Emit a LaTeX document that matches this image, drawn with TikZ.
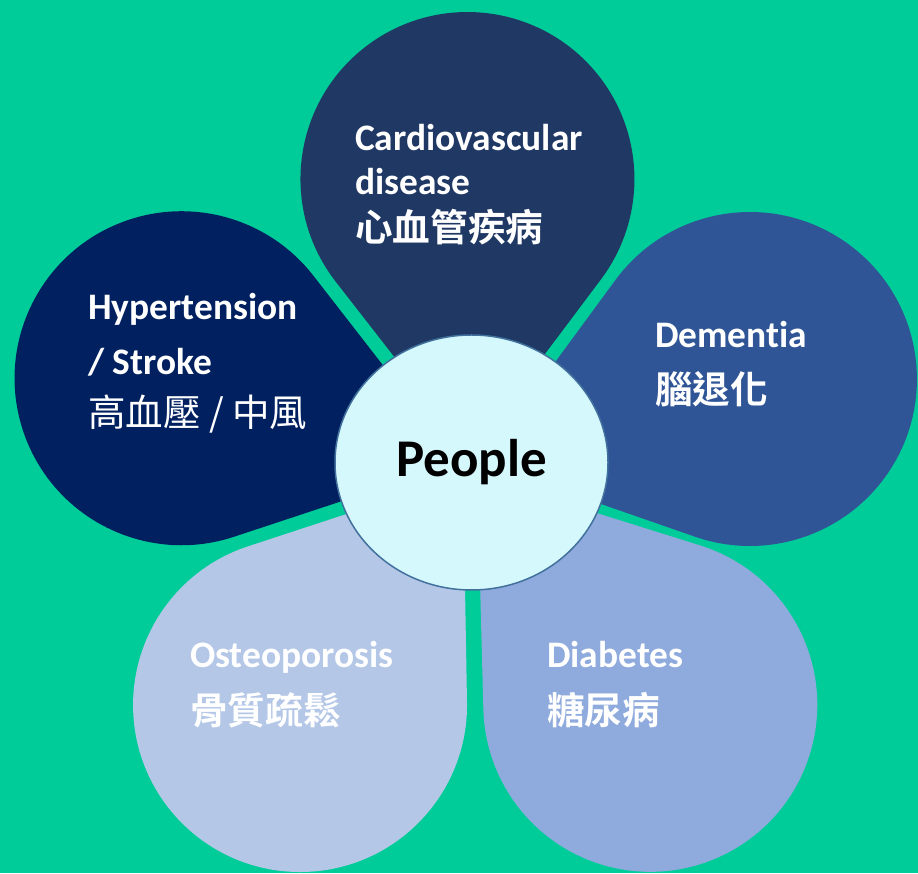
\documentclass[tikz,border=0pt]{standalone}
\usepackage{fontspec}
\setmainfont{Carlito}[Ligatures=NoCommon]
\newfontfamily\cjk{Noto Sans CJK TC}[BoldFont={Noto Sans CJK TC Bold}]
\usetikzlibrary{shapes.geometric}
\definecolor{bggreen}{RGB}{0,204,153}
\definecolor{cvdblue}{RGB}{32,56,100}
\definecolor{hypblue}{RGB}{0,32,96}
\definecolor{demblue}{RGB}{47,85,151}
\definecolor{diablue}{RGB}{143,170,220}
\definecolor{ostblue}{RGB}{180,199,231}
\definecolor{peoplefill}{RGB}{213,248,252}
\definecolor{peopleline}{RGB}{65,113,156}

\begin{document}
\begin{tikzpicture}[x=1pt,y=1pt,
	petal/.style={shift={(hub)}},
	entext/.style={text=white,inner sep=0,anchor=base west,font=\bfseries\fontsize{37.4}{40}\selectfont},
	zhtext/.style={text=white,inner sep=0,anchor=base west,font=\cjk\bfseries\fontsize{37.6}{40}\selectfont},
	people/.style={ellipse,draw=peopleline,line width=1.5pt,fill=peoplefill,inner sep=0,
		minimum width=273pt,minimum height=255pt,font=\bfseries\fontsize{53}{60}\selectfont}]
			\useasboundingbox (0,0) rectangle (918,873);
			\fill[bggreen] (0,0) rectangle (918,873);
			\coordinate (hub) at (470,407);
			% petals: tip near the hub, round end outwards
			\fill[cvdblue,petal,rotate=90.5] (12,0) -- ++(37.4:218.5) arc[start angle=127.4,end angle=-127.4,radius=167] -- cycle;
			\fill[hypblue,petal,rotate=163.1] (12,0) -- ++(35.2:236.5) arc[start angle=125.2,end angle=-125.2,radius=167] -- cycle;
			\fill[demblue,petal,rotate=17.3] (12,0) -- ++(36.4:226.2) arc[start angle=126.4,end angle=-126.4,radius=167] -- cycle;
			\fill[ostblue,petal,rotate=234.6] (12,0) -- ++(36.4:226.4) arc[start angle=126.4,end angle=-126.4,radius=167] -- cycle;
			\fill[diablue,petal,rotate=307] (12,0) -- ++(35.6:233.7) arc[start angle=125.6,end angle=-125.6,radius=167] -- cycle;
			\node[people] (center) at (471.5,410.5) {People};
			% labels
			\node[entext] (cvd1) at (355,722) {Cardiovascular};
			\node[entext] (cvd2) at (355,678) {disease};
			\node[zhtext] (cvd3) at (355,631) {心血管疾病};
			\node[entext] (hyp1) at (88,553) {Hypertension};
			\node[entext] (hyp2) at (88,498) {/ Stroke};
			\node[zhtext,font=\cjk\fontsize{37.5}{40}\selectfont] (hyp3) at (88,446) {高血壓 / 中風};
			\node[entext] (dem1) at (655,525) {Dementia};
			\node[zhtext] (dem2) at (655,469) {腦退化};
			\node[entext] (ost1) at (190,205) {Osteoporosis};
			\node[zhtext] (ost2) at (190,148) {骨質疏鬆};
			\node[entext] (dia1) at (547,205) {Diabetes};
			\node[zhtext] (dia2) at (547,148) {糖尿病};
		\end{tikzpicture}
\end{document}
